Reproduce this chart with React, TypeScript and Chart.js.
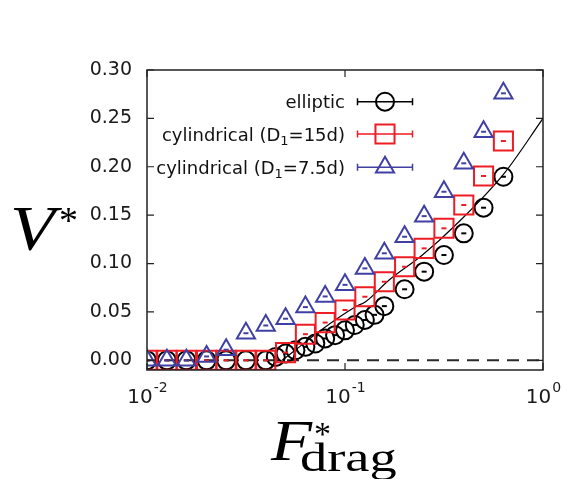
import React, { useEffect, useRef } from 'react';
import { Chart, registerables } from 'chart.js';

Chart.register(...registerables);

// Drag forces sampled ten per decade
const forceCoarse = [
  0.01, 0.0126, 0.0158, 0.02, 0.0251, 0.0316, 0.0398, 0.0501, 0.0631, 0.0794,
  0.1, 0.126, 0.158, 0.2, 0.251, 0.316, 0.398, 0.501, 0.631,
];
const cyl15Velocity = [
  0, 0, 0, 0, 0, 0, 0, 0.008, 0.027, 0.039,
  0.052, 0.0657, 0.0812, 0.0967, 0.1157, 0.1364, 0.1605, 0.1905, 0.2266,
];
const cyl75Velocity = [
  0, 0, 0, 0.004, 0.011, 0.028, 0.036, 0.043, 0.055, 0.066,
  0.078, 0.095, 0.1106, 0.1277, 0.149, 0.1742, 0.2036, 0.2362, 0.2759,
];

// Elliptic runs, sampled twice as densely around the onset
const ellipticForce = [
  0.01, 0.0126, 0.0158, 0.02, 0.0251, 0.0316, 0.0398, 0.0447, 0.0501, 0.0562,
  0.0631, 0.0708, 0.0794, 0.0891, 0.1, 0.112, 0.126, 0.141, 0.158, 0.2,
  0.251, 0.316, 0.398, 0.501, 0.631,
];
const ellipticVelocity = [
  0, 0, 0, 0, 0, 0, 0, 0.0035, 0.007, 0.0104,
  0.0139, 0.0174, 0.0226, 0.026, 0.031, 0.0365, 0.0417, 0.047, 0.056, 0.0734,
  0.0916, 0.1088, 0.1312, 0.1577, 0.1897,
];

// Fitted curve through the elliptic data
const fitForce = [0.0481, 0.0561, 0.0737, 0.113, 0.127, 0.167, 0.246, 0.362, 0.637, 1.0];
const fitVelocity = [0, 0.0106, 0.0296, 0.0554, 0.0606, 0.083, 0.1088, 0.1398, 0.1932, 0.25];

// Zero-velocity reference
const zeroForce = [0.01, 1];
const zeroVelocity = [0, 0];

const xTickValues = [0.01, 0.1, 1];
const xTickExponents = ['-2', '-1', '0'];
const yMin = -0.01;
const yMax = 0.3;
const yStep = 0.05;

const BLACK = '#000000';
const RED = '#ee1c25';
const BLUE = '#4040a4';

type Part = { text: string; sub?: boolean };
const legendEntries: { parts: Part[]; color: string; style: string; radius: number }[] = [
  { parts: [{ text: 'elliptic' }], color: BLACK, style: 'circle', radius: 9 },
  {
    parts: [{ text: 'cylindrical (D' }, { text: '1', sub: true }, { text: '=15d)' }],
    color: RED,
    style: 'rect',
    radius: 13.5,
  },
  {
    parts: [{ text: 'cylindrical (D' }, { text: '1', sub: true }, { text: '=7.5d)' }],
    color: BLUE,
    style: 'triangle',
    radius: 10.5,
  },
];

const pts = (xs: number[], ys: number[]) => xs.map((x, i) => ({ x, y: ys[i] }));

const SANS = '"DejaVu Sans", "Liberation Sans", Arial, sans-serif';
const SERIF = '"Liberation Serif", "DejaVu Serif", serif';

function markerPath(ctx: CanvasRenderingContext2D, style: string, x: number, y: number, r: number) {
  ctx.beginPath();
  if (style === 'circle') {
    ctx.arc(x, y, r, 0, Math.PI * 2);
  } else if (style === 'rect') {
    const s = Math.SQRT1_2 * r;
    ctx.rect(x - s, y - s, 2 * s, 2 * s);
  } else {
    ctx.moveTo(x, y - r);
    ctx.lineTo(x + 0.866 * r, y + 0.5 * r);
    ctx.lineTo(x - 0.866 * r, y + 0.5 * r);
    ctx.closePath();
  }
  ctx.stroke();
}

const decorations = {
  id: 'decorations',
  afterDraw(chart: any) {
    const ctx: CanvasRenderingContext2D = chart.ctx;
    const { left, right, top, bottom } = chart.chartArea;
    const xs = chart.scales.x;
    const ys = chart.scales.y;
    ctx.save();

    // frame
    ctx.strokeStyle = '#222';
    ctx.lineWidth = 1.5;
    ctx.strokeRect(left, top, right - left, bottom - top);

    // inward ticks
    ctx.lineWidth = 1.2;
    ctx.beginPath();
    ys.ticks.forEach((t: any) => {
      const py = ys.getPixelForValue(t.value);
      ctx.moveTo(left, py);
      ctx.lineTo(left + 7, py);
      ctx.moveTo(right, py);
      ctx.lineTo(right - 7, py);
    });
    xTickValues.forEach((v) => {
      const px = xs.getPixelForValue(v);
      ctx.moveTo(px, bottom);
      ctx.lineTo(px, bottom - 7);
      ctx.moveTo(px, top);
      ctx.lineTo(px, top + 7);
    });
    ctx.stroke();

    // power-of-ten tick labels
    ctx.fillStyle = '#1a1a1a';
    ctx.textAlign = 'left';
    ctx.textBaseline = 'alphabetic';
    const baseFont = `20px ${SANS}`;
    const expFont = `14px ${SANS}`;
    xTickValues.forEach((v, i) => {
      const px = xs.getPixelForValue(v);
      ctx.font = baseFont;
      const w1 = ctx.measureText('10').width;
      ctx.font = expFont;
      const w2 = ctx.measureText(xTickExponents[i]).width;
      const x0 = px - (w1 + w2) / 2;
      ctx.font = baseFont;
      ctx.fillText('10', x0, bottom + 33);
      ctx.font = expFont;
      ctx.fillText(xTickExponents[i], x0 + w1 + 1, bottom + 22);
    });

    // legend
    const textRight = left + 198;
    const symX = left + 238;
    const rowY = [top + 31.7, top + 64, top + 97.3];
    legendEntries.forEach((entry, i) => {
      const y = rowY[i];
      let total = 0;
      entry.parts.forEach((p) => {
        ctx.font = p.sub ? `13px ${SANS}` : `18px ${SANS}`;
        total += ctx.measureText(p.text).width;
      });
      let x = textRight - total;
      ctx.fillStyle = '#111';
      entry.parts.forEach((p) => {
        ctx.font = p.sub ? `13px ${SANS}` : `18px ${SANS}`;
        ctx.fillText(p.text, x, y + (p.sub ? 10.5 : 6.5));
        x += ctx.measureText(p.text).width;
      });
      ctx.strokeStyle = entry.color;
      ctx.lineWidth = 1.5;
      ctx.beginPath();
      ctx.moveTo(symX - 27.5, y);
      ctx.lineTo(symX + 27.5, y);
      ctx.moveTo(symX - 27.5, y - 3.5);
      ctx.lineTo(symX - 27.5, y + 3.5);
      ctx.moveTo(symX + 27.5, y - 3.5);
      ctx.lineTo(symX + 27.5, y + 3.5);
      ctx.stroke();
      ctx.lineWidth = 2;
      markerPath(ctx, entry.style, symX, y, entry.radius);
    });

    // axis titles
    ctx.fillStyle = '#000';
    ctx.save();
    ctx.translate(10, 250);
    ctx.scale(1.15, 1);
    ctx.font = `italic 64px ${SERIF}`;
    ctx.fillText('V', 0, 0);
    ctx.restore();
    ctx.font = `38px ${SERIF}`;
    ctx.fillText('*', 59, 233);

    ctx.save();
    ctx.translate(271, 460);
    ctx.scale(1.2, 1);
    ctx.font = `italic 56px ${SERIF}`;
    ctx.fillText('F', 0, 0);
    ctx.restore();
    ctx.font = `34px ${SERIF}`;
    ctx.fillText('*', 314, 445);
    ctx.save();
    ctx.translate(300, 471);
    ctx.scale(1.36, 1);
    ctx.font = `40px ${SERIF}`;
    ctx.fillText('drag', 0, 0);
    ctx.restore();

    ctx.restore();
  },
};

function scatter(label: string, xs: number[], ys: number[], color: string, style: string, radius: number, order: number) {
  return {
    label,
    data: pts(xs, ys),
    showLine: false,
    pointStyle: style,
    pointRadius: radius,
    pointBorderColor: color,
    pointBackgroundColor: 'rgba(0,0,0,0)',
    pointBorderWidth: 2,
    borderColor: color,
    order,
  };
}

function centerMarks(xs: number[], ys: number[], color: string, order: number) {
  return {
    label: '',
    data: pts(xs, ys),
    showLine: false,
    pointStyle: 'line',
    pointRadius: 2.5,
    pointBorderColor: color,
    pointBorderWidth: 2,
    borderColor: color,
    order,
  };
}

export default function App() {
  const canvasRef = useRef<HTMLCanvasElement | null>(null);

  useEffect(() => {
    if (!canvasRef.current) return;
    const chart = new Chart(canvasRef.current, {
      type: 'scatter',
      data: {
        datasets: [
          {
            label: 'zero',
            data: pts(zeroForce, zeroVelocity),
            showLine: true,
            borderColor: '#2a2a2a',
            borderWidth: 2,
            borderDash: [12, 8],
            pointRadius: 0,
            order: 20,
          },
          {
            label: 'fit',
            data: pts(fitForce, fitVelocity),
            showLine: true,
            borderColor: '#000',
            borderWidth: 1.2,
            pointRadius: 0,
            cubicInterpolationMode: 'monotone',
            order: 4,
          },
          scatter('elliptic', ellipticForce, ellipticVelocity, BLACK, 'circle', 9, 3),
          centerMarks(ellipticForce, ellipticVelocity, BLACK, 3),
          scatter('cylindrical (D1=15d)', forceCoarse, cyl15Velocity, RED, 'rect', 13.5, 2),
          centerMarks(forceCoarse, cyl15Velocity, RED, 2),
          scatter('cylindrical (D1=7.5d)', forceCoarse, cyl75Velocity, BLUE, 'triangle', 10.5, 1),
          centerMarks(forceCoarse, cyl75Velocity, BLUE, 1),
        ] as any,
      },
      options: {
        animation: false,
        responsive: false,
        devicePixelRatio: 1,
        events: [],
        layout: { padding: { top: 70, right: 20, left: 0, bottom: 0 } },
        plugins: { legend: { display: false }, tooltip: { enabled: false } },
        scales: {
          x: {
            type: 'logarithmic',
            min: 0.01,
            max: 1,
            grid: { display: false, drawTicks: false },
            border: { display: false },
            ticks: { display: false },
            afterFit: (s: any) => {
              s.height = 109;
            },
          },
          y: {
            type: 'linear',
            min: yMin,
            max: yMax,
            grid: { display: false, drawTicks: false },
            border: { display: false },
            ticks: {
              stepSize: yStep,
              includeBounds: false,
              padding: 15,
              color: '#1a1a1a',
              font: { family: SANS, size: 19 },
              callback: (v: any) => Number(v).toFixed(2),
            },
            afterFit: (s: any) => {
              s.width = 147;
            },
          },
        },
      } as any,
      plugins: [decorations],
    });
    return () => chart.destroy();
  }, []);

  return (
    <div style={{ position: 'absolute', left: 0, top: 0, width: 563, height: 479, background: '#fff' }}>
      <canvas ref={canvasRef} width={563} height={479} style={{ display: 'block' }} />
    </div>
  );
}
